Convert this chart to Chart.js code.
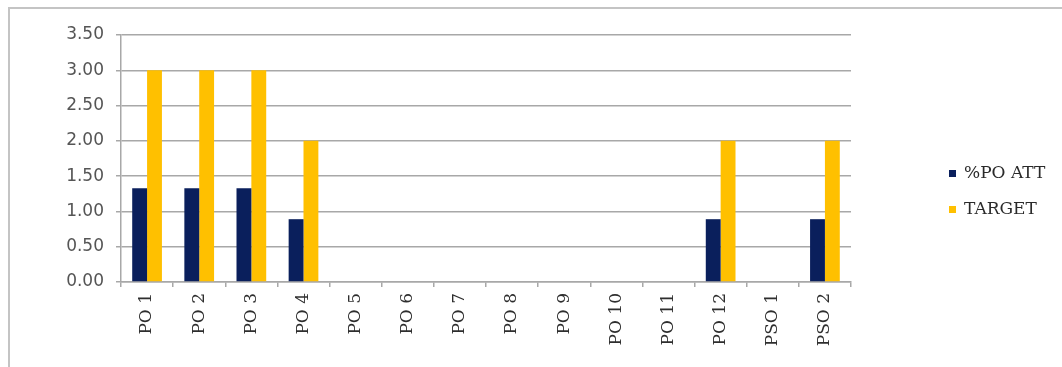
<!DOCTYPE html>
<html>
<head>
<meta charset="utf-8">
<script src="https://cdn.jsdelivr.net/npm/chart.js@4"></script>
<style>
  html, body { margin: 0; padding: 0; background: #fff; overflow: hidden; }
  #wrap { position: relative; width: 1062px; height: 367px; overflow: hidden; }
  #frame { position: absolute; left: 8px; top: 7px; width: 1054px; height: 360px;
           border-left: 2px solid #c4c4c4; border-top: 2px solid #c4c4c4; box-sizing: border-box; }
  #myChart { position: absolute; left: 0; top: 0; }
</style>
</head>
<body>
<div id="wrap">
  <div id="frame"></div>
  <canvas id="myChart" width="1062" height="367"></canvas>
</div>
<script>
const categories = ['PO 1', 'PO 2', 'PO 3', 'PO 4', 'PO 5', 'PO 6', 'PO 7',
                    'PO 8', 'PO 9', 'PO 10', 'PO 11', 'PO 12', 'PSO 1', 'PSO 2'];
const poAtt  = [1.33, 1.33, 1.33, 0.89, 0, 0, 0, 0, 0, 0, 0, 0.89, 0, 0.89];
const target = [3, 3, 3, 2, 0, 0, 0, 0, 0, 0, 0, 2, 0, 2];
const yTicks = [0, 0.5, 1, 1.5, 2, 2.5, 3, 3.5];

const gridColor = '#a8a8a8';

// legend drawn by hand so it can sit apart from the plot, like the original
const sideLegend = {
    id: 'sideLegend',
    afterDraw(chart) {
        const ctx = chart.ctx;
        ctx.save();
        ctx.font = '17px "DejaVu Serif"';
        ctx.textBaseline = 'middle';
        chart.data.datasets.forEach((ds, i) => {
            const y = 173 + i * 36;
            ctx.fillStyle = ds.backgroundColor;
            ctx.fillRect(949, y - 3, 7, 7);
            ctx.fillStyle = '#2a2a2a';
            ctx.fillText(ds.label, 964, y + 1);
        });
        ctx.restore();
    }
};

const ctx = document.getElementById('myChart').getContext('2d');
const myChart = new Chart(ctx, {
    type: 'bar',
    data: {
        labels: categories,
        datasets: [{
            label: '%PO ATT',
            data: poAtt,
            backgroundColor: '#0a1f5c',
            borderWidth: 0
        }, {
            label: 'TARGET',
            data: target,
            backgroundColor: '#ffc000',
            borderWidth: 0
        }]
    },
    options: {
        responsive: false,
        animation: false,
        categoryPercentage: 0.57,
        barPercentage: 1.0,
        layout: { padding: { top: 35, right: 211, left: 0, bottom: 0 } },
        plugins: {
            legend: { display: false },
            tooltip: { enabled: false }
        },
        scales: {
            x: {
                afterFit(scale) { scale.height = 85; },
                grid: { drawOnChartArea: false, drawTicks: true, tickLength: 5, color: gridColor, lineWidth: 1.5 },
                border: { display: true, color: gridColor, width: 1.5 },
                ticks: {
                    minRotation: 90,
                    maxRotation: 90,
                    autoSkip: false,
                    padding: 6,
                    color: '#2e2e2e',
                    font: { family: 'DejaVu Serif', size: 17 }
                }
            },
            y: {
                min: 0,
                max: 3.5,
                afterFit(scale) { scale.width = 121; },
                afterBuildTicks(scale) { scale.ticks = yTicks.map(v => ({ value: v })); },
                grid: { color: gridColor, lineWidth: 1.5, tickLength: 5 },
                border: { display: true, color: gridColor, width: 1.5 },
                ticks: {
                    padding: 12,
                    color: '#555555',
                    font: { family: 'DejaVu Sans', size: 17 },
                    callback: v => Number(v).toFixed(2)
                }
            }
        }
    },
    plugins: [sideLegend]
});
</script>
</body>
</html>
